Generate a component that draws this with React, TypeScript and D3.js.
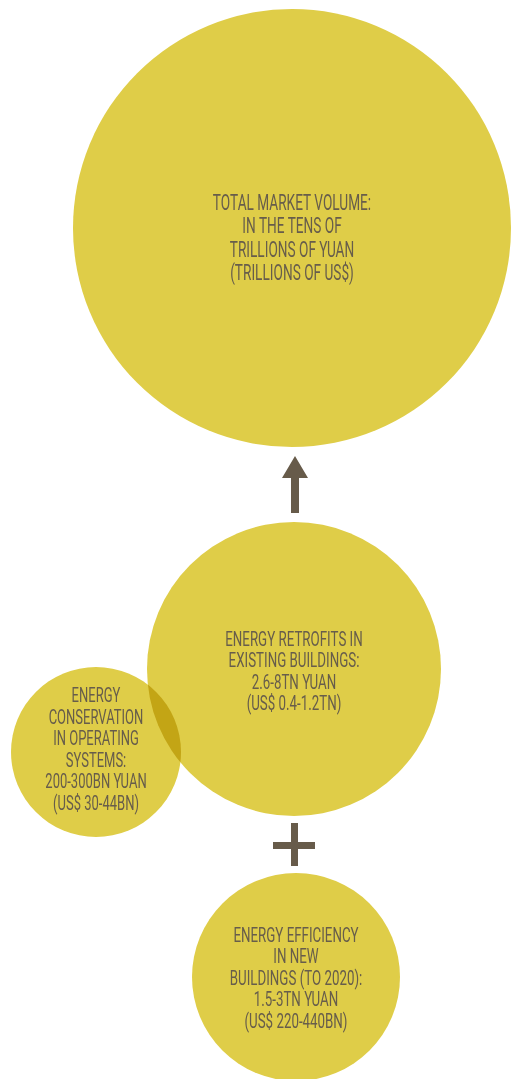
import React from "react";
import * as d3 from "d3";

const circleNames = ["total", "retrofits", "operating", "newBuildings"];
const circleSizes = [219, 147, 85, 104];
const circleCentersX = [292, 294, 96, 296];
const circleCentersY = [228, 669, 752, 977];
const circleLabels = [
  ["TOTAL MARKET VOLUME:", "IN THE TENS OF", "TRILLIONS OF YUAN", "(TRILLIONS OF US$)"],
  ["ENERGY RETROFITS IN", "EXISTING BUILDINGS:", "2.6-8TN YUAN", "(US$ 0.4-1.2TN)"],
  ["ENERGY", "CONSERVATION", "IN OPERATING", "SYSTEMS:", "200-300BN YUAN", "(US$ 30-44BN)"],
  ["ENERGY EFFICIENCY", "IN NEW", "BUILDINGS (TO 2020):", "1.5-3TN YUAN", "(US$ 220-440BN)"],
];
const firstBaselines = [210, 646, 702, 942];
const lineSteps = [23.3, 21.3, 21.6, 21.5];
const fontSizes = [21.5, 21, 20.5, 21];

const FILL = "#dfcd48";
const INK = "#675d4b";
const MARK = "#675b4a";

export default function App() {
  const W = 513;
  const H = 1079;
  const r = d3.scaleLinear().domain([0, 1]).range([0, 1]);
  const arrowPath = d3.path();
  const ax = 295;
  arrowPath.moveTo(ax, 456);
  arrowPath.lineTo(ax + 13, 478);
  arrowPath.lineTo(ax + 4, 478);
  arrowPath.lineTo(ax + 4, 513);
  arrowPath.lineTo(ax - 4, 513);
  arrowPath.lineTo(ax - 4, 478);
  arrowPath.lineTo(ax - 13, 478);
  arrowPath.closePath();

  const sx = 0.635;
  return (
    <svg width={W} height={H} style={{ position: "absolute", left: 0, top: 0 }}>
      <rect width={W} height={H} fill="#fff" />
      {circleNames.map((n, i) => (
        <circle
          key={n}
          cx={circleCentersX[i]}
          cy={circleCentersY[i]}
          r={r(circleSizes[i])}
          fill={FILL}
          style={{ mixBlendMode: "multiply" }}
        />
      ))}
      <path d={arrowPath.toString()} fill={MARK} />
      <rect x={291} y={823} width={7} height={43} fill={MARK} />
      <rect x={273} y={842} width={42} height={7} fill={MARK} />
      {circleLabels.map((lines, i) => (
        <text
          key={"label-" + i}
          transform={`translate(${circleCentersX[i]},${firstBaselines[i]}) scale(${sx},1)`}
          textAnchor="middle"
          fontFamily="Roboto, 'DejaVu Sans'"
          fontWeight={400}
          fontSize={fontSizes[i]}
          fill={INK}
        >
          {lines.map((t, j) => (
            <tspan key={j} x={0} y={j * lineSteps[i]}>
              {t}
            </tspan>
          ))}
        </text>
      ))}
    </svg>
  );
}
